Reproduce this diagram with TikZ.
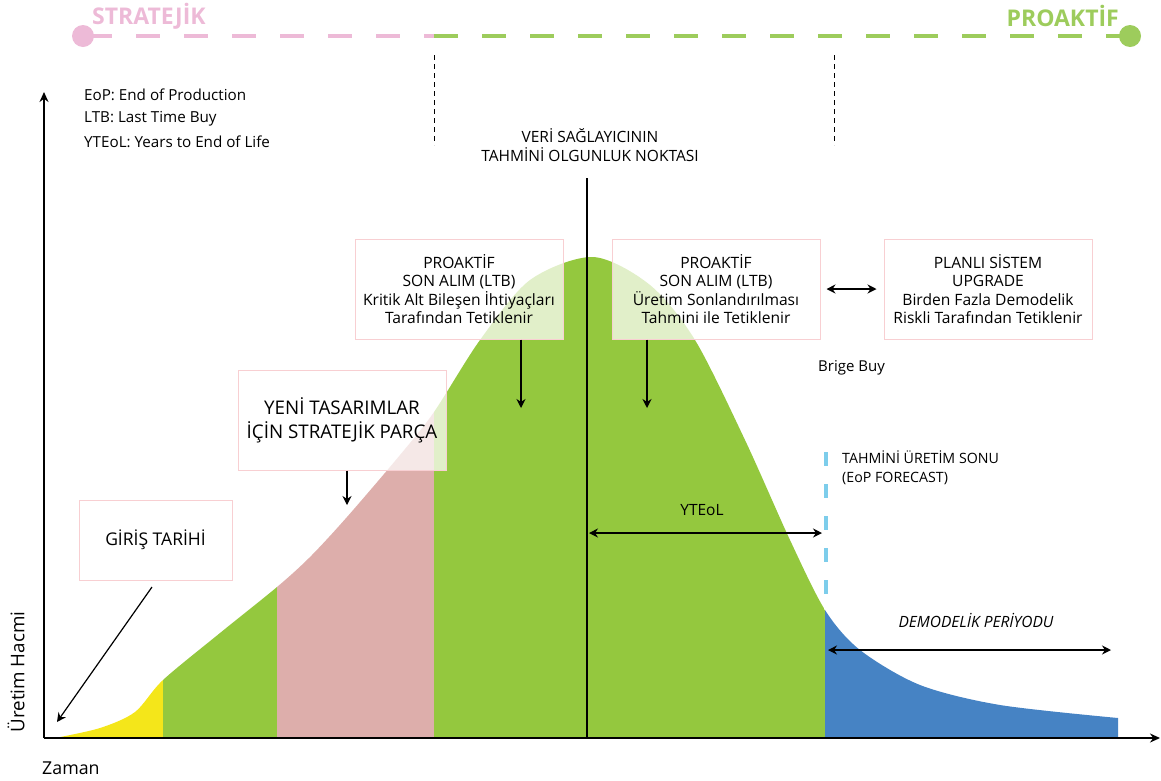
\documentclass[tikz,border=0pt]{standalone}
\usepackage{fontspec}
\setmainfont{Open Sans}
\usetikzlibrary{arrows.meta}
\definecolor{cyel}{HTML}{F4E61A}
\definecolor{cgreen}{HTML}{94C83E}
\definecolor{cpink}{HTML}{DDAEAB}
\definecolor{cblue}{HTML}{4683C4}
\definecolor{ctoppink}{HTML}{EDBAD7}
\definecolor{ctopgreen}{HTML}{9DCC5C}
\definecolor{cboxline}{HTML}{F8CFD2}
\definecolor{clblue}{HTML}{7DCDEB}
\begin{document}
\begin{tikzpicture}[x=1pt,y=-1pt,
  box/.style={draw=cboxline, line width=1pt, fill=white, fill opacity=0.72, text opacity=1,
    minimum width=208pt, minimum height=100pt, align=center, inner sep=0pt,
    font=\fontsize{15.6}{18.3}\selectfont},
  bigbox/.style={box, font=\fontsize{18.8}{24}\selectfont},
  arr/.style={-{Stealth[length=9pt,width=9pt]}, line width=1.2pt},
  darr/.style={{Stealth[length=9pt,width=9pt]}-{Stealth[length=9pt,width=9pt]}, line width=1.2pt},
  axis/.style={-{Stealth[length=10pt,width=9pt]}, line width=1.6pt},
  lbl/.style={inner sep=0pt, font=\fontsize{15.5}{19}\selectfont},
  legend/.style={inner sep=0pt, anchor=west, font=\fontsize{15.2}{16}\selectfont},
  thindash/.style={line width=0.8pt, dash pattern=on 5pt off 4pt}]
\useasboundingbox (0,0) rectangle (1161,780);

% ---- area under the curve ----
\begin{scope}
\clip plot[smooth] coordinates {(55,738) (100,728) (135,712) (163,680) (220,633) (277,587)
  (310,557) (347,517) (400,455) (434,412) (480,340) (530,280) (593,257) (650,285) (695,340)
  (745,440) (790,540) (825,610) (860,650) (920,685) (1000,705) (1118,718)} -- (1118,738) -- cycle;
\fill[cyel] (40,200) rectangle (163,740);
\fill[cgreen] (163,200) rectangle (277,740);
\fill[cpink] (277,200) rectangle (434,740);
\fill[cgreen] (434,200) rectangle (825,740);
\fill[cblue] (825,200) rectangle (1120,740);
\end{scope}

% ---- axes ----
\coordinate (O) at (44,738);
\coordinate (ytop) at (44,92);
\coordinate (xend) at (1160,738);
\draw[axis] (O) -- (ytop);
\draw[axis] (O) -- (xend);
\node[lbl, rotate=90, font=\fontsize{18.8}{20}\selectfont] (yl) at (16,672) {Üretim Hacmi};
\node[lbl, anchor=west, font=\fontsize{17.8}{20}\selectfont] (xl) at (42,768) {Zaman};

% ---- top bar ----
\coordinate (pL) at (83,36);
\coordinate (pM) at (434,36);
\coordinate (pR) at (1130,36);
\draw[ctoppink, line width=4.5pt] (pL) -- (112,36);
\draw[ctoppink, line width=4.5pt, dash pattern=on 24pt off 24pt] (136,36) -- (pM);
\draw[ctopgreen, line width=4.5pt, dash pattern=on 24pt off 24pt] (pM) -- (1110,36);
\draw[ctopgreen, line width=4.5pt] (1110,36) -- (pR);
\fill[ctoppink] (pL) circle (11);
\fill[ctopgreen] (pR) circle (11);
\node[inner sep=0pt, anchor=west, text=ctoppink, font=\fontsize{23}{24}\bfseries] (strat) at (92,16) {STRATEJİK};
\node[inner sep=0pt, anchor=east, text=ctopgreen, font=\fontsize{23}{24}\bfseries] (proa) at (1119,16) {PROAKTİF};

\coordinate (d1a) at (434,55); \coordinate (d1b) at (434,145);
\coordinate (d2a) at (834,55); \coordinate (d2b) at (834,145);
\draw[thindash] (d1a) -- (d1b);
\draw[thindash] (d2a) -- (d2b);

% ---- legend ----
\node[legend] (l1) at (84,95) {EoP: End of Production};
\node[legend] (l2) at (84,118.5) {LTB: Last Time Buy};
\node[legend] (l3) at (84,142) {YTEoL: Years to End of Life};

% ---- maturity point ----
\node[lbl, align=center] (mat) at (590,145.5) {VERİ SAĞLAYICININ\\TAHMİNİ OLGUNLUK NOKTASI};
\coordinate (cTop) at (587,178);
\coordinate (cBot) at (587,738);
\draw[line width=1.3pt] (cTop) -- (cBot);

% ---- boxes ----
\node[box] (b1) at (459,289) {PROAKTİF\\SON ALIM (LTB)\\Kritik Alt Bileşen İhtiyaçları\\Tarafından Tetiklenir};
\node[box] (b2) at (716,289) {PROAKTİF\\SON ALIM (LTB)\\Üretim Sonlandırılması\\Tahmini ile Tetiklenir};
\node[box] (b3) at (988,289) {PLANLI SİSTEM\\UPGRADE\\Birden Fazla Demodelik\\Riskli Tarafından Tetiklenir};
\node[bigbox] (b4) at (342,420) {YENİ TASARIMLAR\\İÇİN STRATEJİK PARÇA};
\node[bigbox, font=\fontsize{17.5}{20}\selectfont, minimum width=153pt, minimum height=80pt] (b5) at (155.5,540) {GİRİŞ TARİHİ};

\draw[darr] ([xshift=6pt]b2.east) -- ([xshift=-7pt]b3.west);
\node[lbl, anchor=west, font=\fontsize{15}{16}\selectfont] (bb) at (818,368) {Brige Buy};

\coordinate (t1) at (521,408);
\coordinate (t2) at (647,408);
\coordinate (t4) at (347,505);
\draw[arr] (b1.south -| t1) -- (t1);
\draw[arr] (b2.south -| t2) -- (t2);
\draw[arr] (b4.south -| t4) -- (t4);
\coordinate (g0) at (152,587);
\coordinate (g1) at (57,722);
\draw[arr] (g0) -- (g1);

% ---- right side annotations ----
\coordinate (e0) at (826,452);
\coordinate (e1) at (826,600);
\draw[clblue, line width=4pt, dash pattern=on 14pt off 18pt] (e0) -- (e1);
\node[lbl, anchor=north west, align=left, font=\fontsize{14.2}{18.5}\selectfont] (eop) at (842,451) {TAHMİNİ ÜRETİM SONU\\(EoP FORECAST)};

\node[lbl] (yte) at (702,510) {YTEoL};
\coordinate (y0) at (589,533);
\coordinate (y1) at (822,533);
\draw[darr] (y0) -- (y1);

\node[lbl, font=\fontsize{15.5}{16}\itshape] (dem) at (976,620) {DEMODELİK PERİYODU};
\coordinate (m0) at (828,650);
\coordinate (m1) at (1111,650);
\draw[darr] (m0) -- (m1);
\end{tikzpicture}
\end{document}
